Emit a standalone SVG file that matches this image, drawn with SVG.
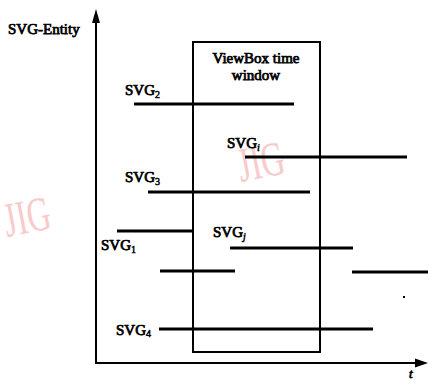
<svg xmlns="http://www.w3.org/2000/svg" width="428" height="382" viewBox="0 0 428 382">
<style>
text{font-family:"Liberation Serif","Times New Roman",serif;font-weight:normal;fill:#000;stroke:#000;stroke-width:0.75}
.lbl{font-size:15px}
.sub{font-size:10px;stroke-width:0.5}
.bar{stroke:#000;stroke-width:3;fill:none}
.ax{stroke:#000;stroke-width:2;fill:none}
.wm{font-size:36px;fill:#f7b4b4;stroke:none;opacity:0.7}
</style>
<rect width="428" height="382" fill="#fff"/>
<g id="watermarks">
<text class="wm" x="0" y="0" transform="translate(7,237) rotate(-11) scale(0.9,1.35)">JIG</text>
<text class="wm" x="0" y="0" transform="translate(241,182) rotate(-11) scale(0.9,1.35)">JIG</text>
</g>
<g id="axes">
<line class="ax" x1="96" y1="20" x2="96" y2="363"/>
<polygon points="96,9 92,23 100,23" fill="#000"/>
<line class="ax" x1="95" y1="363" x2="418" y2="363"/>
<polygon points="428,363 415,358.5 415,367.5" fill="#000"/>
<text class="lbl" x="8" y="34">SVG-Entity</text>
<text x="409" y="378" style="font-size:13px;font-style:italic">t</text>
</g>
<g id="viewbox">
<rect x="193" y="42" width="127" height="310" class="ax"/>
<text class="lbl" x="256" y="63" text-anchor="middle">ViewBox time</text>
<text class="lbl" x="256" y="80" text-anchor="middle">window</text>
</g>
<g id="connectors">
<line class="bar" x1="134" y1="104" x2="294" y2="104"/>
<line class="bar" x1="245" y1="157" x2="407" y2="157"/>
<line class="bar" x1="148" y1="192" x2="310" y2="192"/>
<line class="bar" x1="117" y1="231" x2="192" y2="231"/>
<line class="bar" x1="230" y1="248" x2="353" y2="248"/>
<line class="bar" x1="160" y1="271" x2="235" y2="271"/>
<line class="bar" x1="352" y1="272" x2="428" y2="272"/>
<line class="bar" x1="159" y1="329" x2="373" y2="329"/>
<rect x="403" y="296" width="2" height="2" fill="#000"/>
</g>
<g id="svg2"><text class="lbl" x="125" y="95">SVG<tspan class="sub" dy="3">2</tspan></text></g>
<g id="svgi"><text class="lbl" x="227" y="148">SVG<tspan class="sub" dy="3" font-style="italic">i</tspan></text></g>
<g id="svg3"><text class="lbl" x="125" y="182">SVG<tspan class="sub" dy="3">3</tspan></text></g>
<g id="svg1"><text class="lbl" x="101" y="250">SVG<tspan class="sub" dy="3">1</tspan></text></g>
<g id="svgj"><text class="lbl" x="213" y="237">SVG<tspan class="sub" dy="3" font-style="italic">j</tspan></text></g>
<g id="svg4"><text class="lbl" x="116" y="335">SVG<tspan class="sub" dy="2">4</tspan></text></g>
</svg>
